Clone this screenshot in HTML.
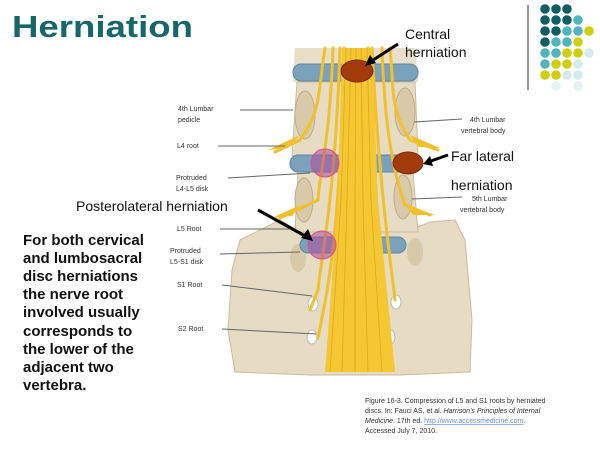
<!DOCTYPE html>
<html><head><meta charset="utf-8"><style>
html,body{margin:0;padding:0;background:#fff;}
svg{display:block;font-family:"Liberation Sans",Arial,sans-serif;}
</style></head><body>
<svg width="600" height="454" viewBox="0 0 600 454" xmlns="http://www.w3.org/2000/svg">
<rect width="600" height="454" fill="#fff"/>
<text x="12" y="37" font-size="31" font-weight="bold" fill="#17676a" textLength="181" lengthAdjust="spacingAndGlyphs">Herniation</text>
<line x1="528" y1="5" x2="528" y2="90" stroke="#999" stroke-width="2"/>
<g>
<circle cx="545" cy="9" r="4.8" fill="#0f5e61"/><circle cx="556" cy="9" r="4.8" fill="#0f5e61"/><circle cx="567" cy="9" r="4.8" fill="#0f5e61"/>
<circle cx="545" cy="20" r="4.8" fill="#0f5e61"/><circle cx="556" cy="20" r="4.8" fill="#0f5e61"/><circle cx="567" cy="20" r="4.8" fill="#0f5e61"/><circle cx="578" cy="20" r="4.8" fill="#4fb4bb"/>
<circle cx="545" cy="31" r="4.8" fill="#0f5e61"/><circle cx="556" cy="31" r="4.8" fill="#0f5e61"/><circle cx="567" cy="31" r="4.8" fill="#4fb4bb"/><circle cx="578" cy="31" r="4.8" fill="#4fb4bb"/><circle cx="589" cy="31" r="4.8" fill="#cfcf10"/>
<circle cx="545" cy="42" r="4.8" fill="#0f5e61"/><circle cx="556" cy="42" r="4.8" fill="#4fb4bb"/><circle cx="567" cy="42" r="4.8" fill="#4fb4bb"/><circle cx="578" cy="42" r="4.8" fill="#cfcf10"/>
<circle cx="545" cy="53" r="4.8" fill="#4fb4bb"/><circle cx="556" cy="53" r="4.8" fill="#4fb4bb"/><circle cx="567" cy="53" r="4.8" fill="#cfcf10"/><circle cx="578" cy="53" r="4.8" fill="#cfcf10"/><circle cx="589" cy="53" r="4.8" fill="#d4ecee"/>
<circle cx="545" cy="64" r="4.8" fill="#4fb4bb"/><circle cx="556" cy="64" r="4.8" fill="#cfcf10"/><circle cx="567" cy="64" r="4.8" fill="#cfcf10"/><circle cx="578" cy="64" r="4.8" fill="#d4ecee"/>
<circle cx="545" cy="75" r="4.8" fill="#cfcf10"/><circle cx="556" cy="75" r="4.8" fill="#cfcf10"/><circle cx="567" cy="75" r="4.8" fill="#d4ecee"/><circle cx="578" cy="75" r="4.8" fill="#d4ecee"/>
<circle cx="556" cy="86" r="4.8" fill="#e4f2f3"/><circle cx="578" cy="86" r="4.8" fill="#e4f2f3"/>
</g>
<!-- sacrum -->
<path d="M240 240 L280 220 L300 232 L405 232 L430 222 L455 220 L465 240 L472 320 L470 372 L400 375 L310 375 L235 372 L228 330 L232 270 Z" fill="#e6dcc4" stroke="#cbbd9c"/>
<!-- vertebral bodies -->
<path d="M295 48 L415 48 L418 82 L293 82 Z" fill="#e8dfc8"/>
<path d="M297 82 L415 82 L418 156 L292 156 Z" fill="#e6dcc4" stroke="#cbbd9c"/>
<path d="M298 172 L413 172 L418 232 L295 232 Z" fill="#e6dcc4" stroke="#cbbd9c"/>
<!-- pedicles -->
<ellipse cx="305" cy="115" rx="10" ry="24" fill="#d8c9a8" stroke="#c0ad88"/>
<ellipse cx="405" cy="112" rx="10" ry="24" fill="#d8c9a8" stroke="#c0ad88"/>
<ellipse cx="304" cy="200" rx="9" ry="22" fill="#d8c9a8" stroke="#c0ad88"/>
<ellipse cx="403" cy="197" rx="9" ry="22" fill="#d8c9a8" stroke="#c0ad88"/>
<ellipse cx="298" cy="258" rx="8" ry="14" fill="#d8c9a8"/><ellipse cx="415" cy="252" rx="8" ry="14" fill="#d8c9a8"/>
<!-- discs -->
<rect x="293" y="64" width="125" height="17" rx="8" fill="#7aa2bb" stroke="#5f87a2"/>
<rect x="290" y="155" width="127" height="17" rx="8" fill="#7aa2bb" stroke="#5f87a2"/>
<rect x="300" y="237" width="106" height="16" rx="8" fill="#7aa2bb" stroke="#5f87a2"/>
<!-- sacral foramina -->
<g fill="#fff" stroke="#bbb"><ellipse cx="313" cy="304" rx="5" ry="7"/><ellipse cx="312" cy="337" rx="5" ry="7"/><ellipse cx="396" cy="302" rx="5" ry="7"/><ellipse cx="390" cy="337" rx="5" ry="7"/></g>
<!-- nerve roots lateral -->
<g fill="none" stroke="#f2c02a" stroke-width="3" stroke-linecap="round">
<path d="M325 48 C318 90 322 110 300 140 L275 152"/>
<path d="M390 48 C394 90 390 110 410 140 L438 150"/>
<path d="M333 48 C330 140 320 170 318 200 L280 218"/>
<path d="M382 48 C385 140 396 180 405 205 L430 215"/>
<path d="M340 48 C335 200 322 250 318 290 L310 310"/>
<path d="M372 48 C380 200 392 270 395 300"/>
<path d="M344 48 C340 250 325 300 318 338"/>
<path d="M368 48 C375 250 388 310 388 338"/>
</g>
<path d="M300 135 L268 150 L288 148 Z" fill="#f2c02a"/>
<path d="M410 135 L440 148 L418 147 Z" fill="#f2c02a"/>
<path d="M300 205 L272 218 L292 216 Z" fill="#f2c02a"/>
<path d="M405 205 L435 215 L413 215 Z" fill="#f2c02a"/>
<!-- cauda bundle -->
<path d="M342 48 L372 48 L378 200 L395 372 L325 372 L338 200 Z" fill="#f5c733"/>
<g stroke="#e0a818" stroke-width="0.8" fill="none">
<path d="M346 48 L341 200 L330 372"/><path d="M351 48 L347 200 L342 372"/><path d="M356 48 L355 200 L355 372"/><path d="M361 48 L363 200 L368 372"/><path d="M367 48 L371 200 L382 372"/>
</g>
<!-- herniations -->
<ellipse cx="357" cy="71" rx="16" ry="11" fill="#a33a0c" stroke="#7a2a08"/>
<ellipse cx="408" cy="163" rx="15" ry="11" fill="#a33a0c" stroke="#7a2a08"/>
<circle cx="325" cy="163" r="14" fill="#b04a9a" fill-opacity="0.55" stroke="#e0508a"/>
<circle cx="322" cy="245" r="14" fill="#b04a9a" fill-opacity="0.55" stroke="#e0508a"/>
<!-- arrows -->
<g stroke="#000" stroke-width="3"><line x1="398" y1="44" x2="370" y2="62"/><line x1="448" y1="155" x2="428" y2="162"/><line x1="258" y1="210" x2="307" y2="237"/></g>
<g fill="#000"><path d="M365 66 L370 55 L376 63 Z"/><path d="M423 164 L430 156 L433 166 Z"/><path d="M313 241 L301 238 L308 229 Z"/></g>
<!-- big labels -->
<g font-size="14" fill="#111">
<text x="405" y="39">Central</text><text x="405" y="57">herniation</text>
<text x="451" y="161">Far lateral</text>
<text x="451" y="190">herniation</text>
<text x="76" y="211">Posterolateral herniation</text>
</g>
<!-- small labels -->
<g font-size="7" fill="#333">
<text x="178" y="111">4th Lumbar</text><text x="178" y="122">pedicle</text>
<text x="177" y="148">L4 root</text>
<text x="176" y="180">Protruded</text><text x="176" y="191">L4-L5 disk</text>
<text x="177" y="231">L5 Root</text>
<text x="170" y="253">Protruded</text><text x="170" y="264">L5-S1 disk</text>
<text x="177" y="287">S1 Root</text>
<text x="178" y="331">S2 Root</text>
<text x="470" y="122">4th Lumbar</text><text x="461" y="133">vertebral body</text>
<text x="472" y="201">5th Lumbar</text><text x="460" y="212">vertebral body</text>
</g>
<g stroke="#666" stroke-width="1">
<line x1="240" y1="110" x2="293" y2="110"/><line x1="218" y1="146" x2="285" y2="146"/>
<line x1="228" y1="178" x2="310" y2="173"/><line x1="220" y1="229" x2="290" y2="229"/>
<line x1="220" y1="254" x2="300" y2="252"/><line x1="222" y1="285" x2="312" y2="296"/>
<line x1="222" y1="329" x2="316" y2="334"/>
<line x1="414" y1="122" x2="462" y2="119"/><line x1="412" y1="199" x2="462" y2="197"/>
</g>
<!-- left text -->
<g font-size="15" font-weight="bold" fill="#111">
<text x="23" y="245">For both cervical</text>
<text x="23" y="263">and lumbosacral</text>
<text x="23" y="281">disc herniations</text>
<text x="23" y="299">the nerve root</text>
<text x="23" y="317">involved usually</text>
<text x="23" y="336">corresponds to</text>
<text x="23" y="354">the lower of the</text>
<text x="23" y="372">adjacent two</text>
<text x="23" y="390">vertebra.</text>
</g>
<!-- caption -->
<g font-size="7" fill="#333">
<text x="365" y="403">Figure 16-3. Compression of L5 and S1 roots by herniated</text>
<text x="365" y="413">discs. In: Fauci AS, et al. <tspan font-style="italic">Harrison's Principles of Internal</tspan></text>
<text x="365" y="423"><tspan font-style="italic">Medicine</tspan>. 17th ed. <tspan fill="#6b8fd6" text-decoration="underline">http://www.accessmedicine.com</tspan>.</text>
<text x="365" y="433">Accessed July 7, 2010.</text>
</g>
</svg>
</body></html>
